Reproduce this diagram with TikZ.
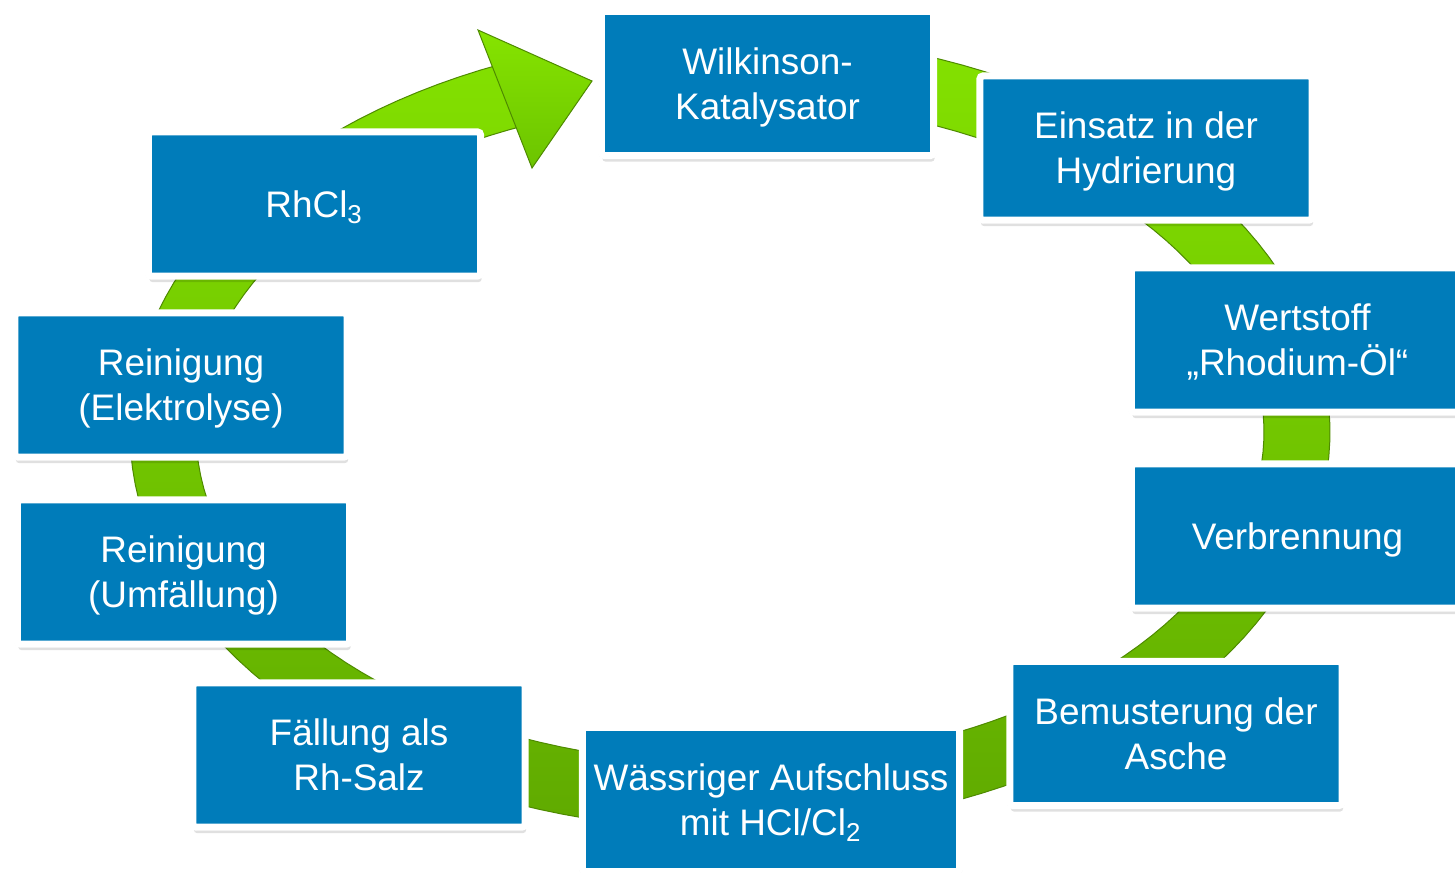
\documentclass[tikz,border=0pt]{standalone}
\usepackage{fontspec}
\setmainfont{Liberation Sans}
\usetikzlibrary{shadows}

% line strut, so every box sets its lines alike
\newcommand{\ls}{\rule[-2pt]{0pt}{11.6pt}}

\begin{document}
\begin{tikzpicture}[x=0.01cm, y=-0.01cm,
    procbox/.style={draw=white, line width=0.07cm, fill=boxColour, rounded corners=0.03cm,
        minimum width=3.32cm, minimum height=1.44cm, inner sep=0pt, align=center,
        text=white, font=\fontsize{10.5}{12.8}\selectfont,
        drop shadow={shadow xshift=0cm, shadow yshift=-0.01cm, shadow scale=1.015, opacity=0.08, fill=black},
        drop shadow={shadow xshift=0.01cm, shadow yshift=-0.06cm, opacity=0.12, fill=black},
        drop shadow={shadow xshift=0.01cm, shadow yshift=-0.03cm, opacity=0.22, fill=black}}]
    % Define ring geometry
    \def\ringX{730}
    \def\ringY{432}
    \def\ringA{567}
    \def\ringB{365}
    \def\ringHalf{33}

    \definecolor{boxColour}{HTML}{007CBA}
    \definecolor{ringTop}{HTML}{84E200}
    \definecolor{ringBottom}{HTML}{60AA00}
    \definecolor{ringEdge}{HTML}{4E8A00}
    \definecolor{headTop}{HTML}{86E400}
    \definecolor{headBottom}{HTML}{6CC400}

    % Fix the canvas
    \useasboundingbox (0,0) rectangle (1455,872);

    % Draw the green ring
    \shadedraw[top color=ringTop, bottom color=ringBottom, draw=ringEdge, line width=0.01cm]
        plot[domain=-90:250, samples=150] ({\ringX+(\ringA+\ringHalf)*cos(\x)}, {\ringY+(\ringB+\ringHalf)*sin(\x)})
        -- plot[domain=250:-90, samples=150] ({\ringX+(\ringA-\ringHalf)*cos(\x)}, {\ringY+(\ringB-\ringHalf)*sin(\x)})
        -- cycle;

    % Draw the arrow head
    \coordinate (tip) at (592,81);
    \coordinate (wingUp) at (478,30);
    \coordinate (wingDown) at (532,168);
    \shadedraw[top color=headTop, bottom color=headBottom, draw=ringEdge, line width=0.01cm]
        (wingUp) -- (tip) -- (wingDown) -- cycle;

    % Draw the process steps
    \node[procbox] (wilkinson) at (767.5,83.5) {\ls Wilkinson-\\\ls Katalysator};
    \node[procbox] (einsatz) at (1146,148) {\ls Einsatz in der\\\ls Hydrierung};
    \node[procbox] (wertstoff) at (1297.5,340) {\ls Wertstoff\\\ls „Rhodium-Öl“};
    \node[procbox] (verbrennung) at (1297.5,536) {\ls Verbrennung};
    \node[procbox] (bemusterung) at (1176,733.5) {\ls Bemusterung der\\\ls Asche};
    \node[procbox, minimum width=3.77cm] (aufschluss) at (771,799.5) {\ls Wässriger Aufschluss\\\ls mit HCl/Cl\textsubscript{2}};
    \node[procbox] (faellung) at (359,755) {\ls Fällung als\\\ls Rh-Salz};
    \node[procbox] (umfaellung) at (183.5,572) {\ls Reinigung\\\ls (Umfällung)};
    \node[procbox] (elektrolyse) at (181,385) {\ls Reinigung\\\ls (Elektrolyse)};
    \node[procbox] (rhcl) at (314.5,204) {\ls RhCl\textsubscript{3}};

\end{tikzpicture}
\end{document}
